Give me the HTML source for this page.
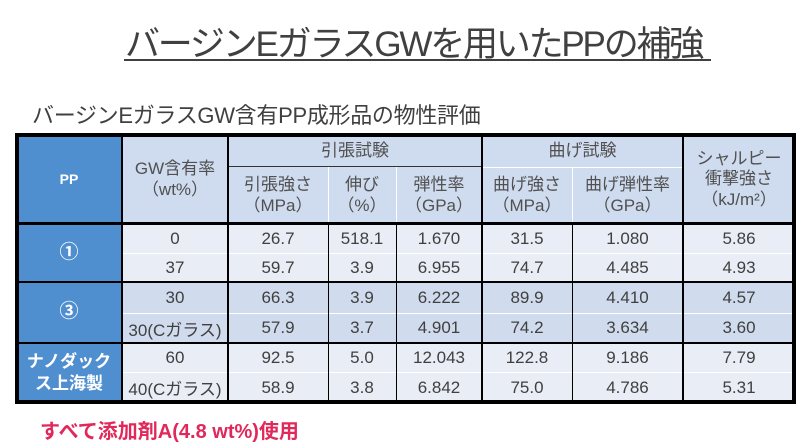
<!DOCTYPE html>
<html><head><meta charset="utf-8"><style>
body{margin:0;width:800px;height:446px;background:#fff;position:relative;overflow:hidden;font-family:"Liberation Sans","Noto Sans CJK JP",sans-serif;color:#404040}
.a{position:absolute;box-sizing:border-box;display:flex;align-items:center;justify-content:center;text-align:center;line-height:1.2}
.t{position:absolute;white-space:nowrap}
.h{background:#cfdbee;font-size:17px;color:#505050}
.l{background:#e8edf6}
.d{background:#d0dcee}
.b{background:#4f8fd0;color:#fff;font-weight:bold}
.ln{position:absolute;background:#000}
.w{position:absolute;background:#fff}
.r{position:absolute;left:122px;width:673px;display:flex;font-size:17px;color:#404040}
.r span{display:flex;align-items:center;justify-content:center;white-space:nowrap}
.r span:nth-child(1){width:106px}.r span:nth-child(2){width:100px}.r span:nth-child(3){width:68px}
.r span:nth-child(4){width:86px}.r span:nth-child(5){width:90px}.r span:nth-child(6){width:111px}.r span:nth-child(7){width:112px}
</style></head><body>
<div class="t" style="left:125px;top:16px;font-size:35px;color:#404040;letter-spacing:-2.2px">バージンEガラスGWを用いたPPの補強</div>
<div style="position:absolute;left:124px;top:59px;width:587px;height:2px;background:#404040"></div>
<div class="t" style="left:32px;top:98px;font-size:22px;color:#404040;letter-spacing:-0.3px">バージンEガラスGW含有PP成形品の物性評価</div>

<div class="a b" style="left:16px;top:135px;width:106px;height:89px;font-size:14px">PP</div>
<div class="a h" style="left:122px;top:135px;width:106px;height:89px">GW含有率<br>（wt%）</div>
<div class="a h" style="left:228px;top:135px;width:254px;height:32px">引張試験</div>
<div class="a h" style="left:482px;top:135px;width:201px;height:32px">曲げ試験</div>
<div class="a h" style="left:683px;top:135px;width:112px;height:89px">シャルピー<br>衝撃強さ<br>（kJ/m²）</div>
<div class="a h" style="left:228px;top:167px;width:100px;height:57px">引張強さ<br>（MPa）</div>
<div class="a h" style="left:328px;top:167px;width:68px;height:57px">伸び<br>（%）</div>
<div class="a h" style="left:396px;top:167px;width:86px;height:57px">弾性率<br>（GPa）</div>
<div class="a h" style="left:482px;top:167px;width:90px;height:57px">曲げ強さ<br>（MPa）</div>
<div class="a h" style="left:572px;top:167px;width:111px;height:57px">曲げ弾性率<br>（GPa）</div>

<div class="a b" style="left:16px;top:224px;width:106px;height:58px;font-size:19px">①</div>
<div class="a b" style="left:16px;top:282px;width:106px;height:61px;font-size:19px">③</div>
<div class="a b" style="left:16px;top:343px;width:106px;height:60px;font-size:17px;line-height:1.3">ナノダック<br>ス上海製</div>

<div class="r l" style="top:224px;height:29px"><span>0</span><span>26.7</span><span>518.1</span><span>1.670</span><span>31.5</span><span>1.080</span><span>5.86</span></div>
<div class="r l" style="top:253px;height:29px"><span>37</span><span>59.7</span><span>3.9</span><span>6.955</span><span>74.7</span><span>4.485</span><span>4.93</span></div>
<div class="r d" style="top:282px;height:31px"><span>30</span><span>66.3</span><span>3.9</span><span>6.222</span><span>89.9</span><span>4.410</span><span>4.57</span></div>
<div class="r d" style="top:313px;height:30px"><span>30(Cガラス)</span><span>57.9</span><span>3.7</span><span>4.901</span><span>74.2</span><span>3.634</span><span>3.60</span></div>
<div class="r l" style="top:343px;height:29px"><span>60</span><span>92.5</span><span>5.0</span><span>12.043</span><span>122.8</span><span>9.186</span><span>7.79</span></div>
<div class="r l" style="top:372px;height:31px"><span>40(Cガラス)</span><span>58.9</span><span>3.8</span><span>6.842</span><span>75.0</span><span>4.786</span><span>5.31</span></div>

<div class="w" style="left:122px;top:253px;width:673px;height:1px"></div>
<div class="w" style="left:122px;top:313px;width:673px;height:1px"></div>
<div class="w" style="left:122px;top:372px;width:673px;height:1px"></div>
<div class="w" style="left:482px;top:167px;width:201px;height:1px"></div>
<div class="ln" style="left:228px;top:166px;width:254px;height:1px;background:#333"></div>

<div class="ln" style="left:121px;top:135px;width:2px;height:268px"></div>
<div class="ln" style="left:227px;top:135px;width:2px;height:268px"></div>
<div class="ln" style="left:481px;top:135px;width:2px;height:268px"></div>
<div class="ln" style="left:682px;top:135px;width:2px;height:268px"></div>
<div class="ln" style="left:328px;top:224px;width:1px;height:179px"></div>
<div class="ln" style="left:396px;top:224px;width:1px;height:179px"></div>
<div class="ln" style="left:572px;top:224px;width:1px;height:179px"></div>
<div class="w" style="left:328px;top:167px;width:1px;height:57px"></div>
<div class="w" style="left:396px;top:167px;width:1px;height:57px"></div>
<div class="w" style="left:572px;top:167px;width:1px;height:57px"></div>
<div class="ln" style="left:16px;top:222px;width:779px;height:3px"></div>
<div class="ln" style="left:16px;top:281px;width:779px;height:2px"></div>
<div class="ln" style="left:16px;top:342px;width:779px;height:2px"></div>
<div style="position:absolute;left:15px;top:133px;width:781px;height:271px;border:4px solid #000;box-sizing:border-box"></div>

<div class="t" style="left:40px;top:415px;font-size:20px;color:#e0285a;font-weight:bold;letter-spacing:0px">すべて添加剤A(4.8 wt%)使用</div>
</body></html>
